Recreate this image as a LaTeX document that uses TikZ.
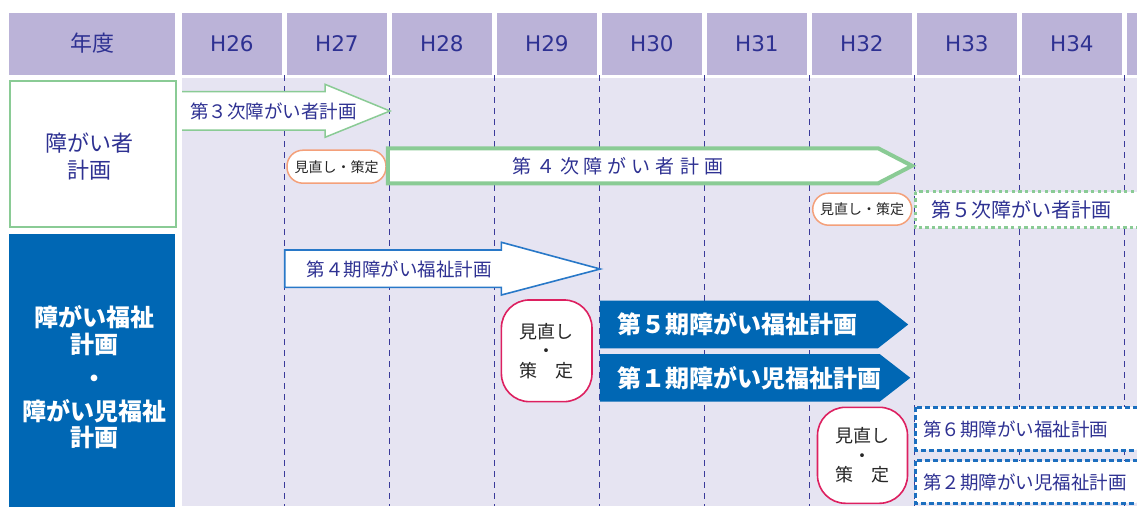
\documentclass[tikz,border=0pt]{standalone}
\usepackage{fontspec}
\setmainfont{DejaVu Sans}
\newfontfamily\jp{Noto Sans CJK JP}
\definecolor{hdr}{HTML}{BBB3D8}
\definecolor{lav}{HTML}{E6E4F2}
\definecolor{navy}{HTML}{2E3192}
\definecolor{grn}{HTML}{8ACB95}
\definecolor{org}{HTML}{F4A07A}
\definecolor{crim}{HTML}{DD2060}
\definecolor{blu}{HTML}{0067B4}
\definecolor{bluline}{HTML}{2878C8}
\definecolor{dashblu}{HTML}{1C6FBF}
\definecolor{dashnavy}{HTML}{3A3A9A}
\begin{document}
\begin{tikzpicture}[x=1pt,y=-1pt,
  hdrbox/.style={fill=hdr,minimum width=100pt,minimum height=62pt,inner sep=0pt,anchor=north west,text=navy,font=\fontsize{21.5}{24}\selectfont},
  vline/.style={dashnavy,line width=0.9pt,dash pattern=on 6pt off 5pt},
  navytxt/.style={text=navy,inner sep=0pt,anchor=west,font=\jp\fontsize{18.5}{20}\selectfont},
  whitetxt/.style={text=white,inner sep=0pt,anchor=west,font=\jp\bfseries\fontsize{24}{26}\selectfont},
  pill/.style={draw=org,line width=1.5pt,fill=white,rounded corners=16pt,minimum width=99pt,minimum height=33pt,inner sep=0pt,text=black!85,font=\jp\fontsize{14}{16}\selectfont},
  review/.style={draw=crim,line width=1.6pt,fill=white,rounded corners=28pt,inner sep=0pt,align=center,text=black!85,font=\jp\fontsize{18}{19.5}\selectfont},
  greenbox/.style={draw=grn,line width=3pt,dash pattern=on 3.3pt off 3.3pt,fill=white},
  bluebox/.style={draw=dashblu,line width=3pt,dash pattern=on 5pt off 3pt,fill=white}
]
\useasboundingbox (0,0) rectangle (1137,506);
\clip (0,0) rectangle (1137,506);
\fill[white] (0,0) rectangle (1137,506);
\fill[lav] (181.7,78.3) rectangle (1137,506);
% header
\node[hdrbox,minimum width=166pt] (hyear) at (9,12.3) {\jp\fontsize{22}{24}\selectfont 年度};
\foreach \k/\lab in {0/H26,1/H27,2/H28,3/H29,4/H30,5/H31,6/H32,7/H33,8/H34,9/{}}
  \node[hdrbox] (h\k) at ({181.7+105*\k},12.3) {\lab};
% grid lines
\foreach \k in {0,...,8}
  \draw[vline] ({284.5+105*\k},75) -- ({284.5+105*\k},506);
% left labels
\node[draw=grn,line width=2pt,fill=white,minimum width=166pt,minimum height=146.4pt,anchor=north west,inner sep=0pt] (lbox1) at (9,80) {};
\node[text=navy,align=center,inner sep=0pt,font=\jp\fontsize{22}{27}\selectfont] (ltxt1) at (89,156.7) {障がい者\\計画};
\node[fill=blu,minimum width=166pt,minimum height=280pt,anchor=north west,inner sep=0pt] (lbox2) at (9,233.3) {};
\node[text=white,align=center,inner sep=0pt,font=\jp\bfseries\fontsize{24}{26.5}\selectfont] (ltxt2) at (94,377.5) {障がい福祉\\計画\\[8pt]・\\[6pt]障がい児福祉\\計画};
% row 1: 第3次
\fill[white] (182,91.7) -- (325,91.7) -- (325,84.3) -- (390,111) -- (325,137.3) -- (325,130) -- (182,130) -- cycle;
\draw[grn,line width=1.5pt,line join=miter] (182,91.7) -- (325,91.7) -- (325,84.3) -- (390,111) -- (325,137.3) -- (325,130) -- (182,130);
\node[navytxt] (t3) at (190,111) {第３次障がい者計画};
% row 2: 第4次
\node[pill] (rv1) at (336.5,166.7) {見直し・策定};
\draw[grn,line width=4pt,fill=white,line join=miter] (387.9,148.3) -- (878.2,148.3) -- (912,165.8) -- (878.2,183.3) -- (387.9,183.3) -- cycle;
\node[text=navy,inner sep=0pt,font=\jp\fontsize{19}{20}\selectfont] (t4) at (617.5,165.8) {第\kern5pt４\kern5pt次\kern5pt障\kern5ptが\kern5ptい\kern5pt者\kern5pt計\kern5pt画};
% row 3: 第5次
\node[pill,minimum height=32pt] (rv2) at (862.2,209.2) {見直し・策定};
\draw[greenbox] (915,191.7) rectangle (1160,227.7);
\node[navytxt,font=\jp\fontsize{20}{22}\selectfont] (t5) at (931.7,210) {第５次障がい者計画};
% row 4: 第4期
\draw[bluline,line width=1.6pt,fill=white,line join=miter] (284.7,250) -- (501.4,250) -- (501.4,242.3) -- (600.2,269) -- (501.4,295) -- (501.4,287.3) -- (284.7,287.3) -- cycle;
\node[navytxt] (f4) at (306.4,269) {第４期障がい福祉計画};
% row 5: 見直し + 第5期 / 第1期
\node[review,minimum width=90.6pt,minimum height=101.7pt] (rv3) at (546.7,350.8) {見直し\\・\\策　定};
\fill[blu] (599.8,300.7) -- (877.9,300.7) -- (908.2,324.5) -- (877.9,348.3) -- (599.8,348.3) -- cycle;
\node[whitetxt] (f5) at (617.2,324.5) {第５期障がい福祉計画};
\fill[blu] (599.8,354) -- (879.6,354) -- (910.3,377.8) -- (879.6,401.7) -- (599.8,401.7) -- cycle;
\node[whitetxt] (c1) at (617,377.8) {第１期障がい児福祉計画};
% row 6
\node[review,minimum width=90pt,minimum height=96pt] (rv4) at (862.5,455.3) {見直し\\・\\策　定};
\draw[bluebox] (915.2,407.3) rectangle (1160,450);
\node[navytxt] (f6) at (923.2,429) {第６期障がい福祉計画};
\draw[bluebox] (915.2,460.7) rectangle (1160,503.3);
\node[navytxt] (c2) at (923.2,482.5) {第２期障がい児福祉計画};
\end{tikzpicture}
\end{document}
